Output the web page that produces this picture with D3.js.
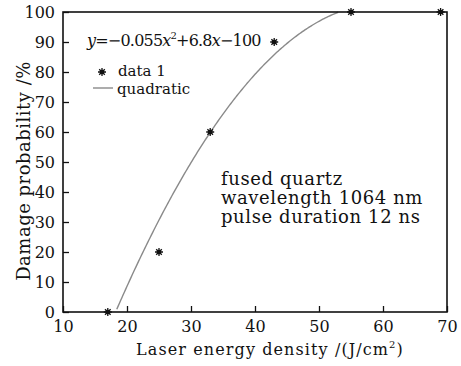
<!DOCTYPE html>
<html>
<head>
<meta charset="utf-8">
<script src="https://cdn.jsdelivr.net/npm/d3@7"></script>
<style>
	body { margin: 0; background: #fff; }
	text { font-family: "DejaVu Serif", "Liberation Serif", serif; fill: #111; }
</style>
</head>
<body>
<div id="chart"></div>
<script>
// measured points
let energy		= [17, 25, 33, 43, 55, 69];
let damage		= [0, 20, 60, 90, 100, 100];
// quadratic fit as drawn
let fitCoef		= [-0.0588, 7.06, -109.1];
let xTicks		= [10, 20, 30, 40, 50, 60, 70];
let yTicks		= [0, 10, 20, 30, 40, 50, 60, 70, 80, 90, 100];
let noteLines	= ["fused quartz", "wavelength 1064 nm", "pulse duration 12 ns"];

let canvasWidth		= 461;
let canvasHeight	= 366;
let margin			= { top: 12, right: 14, bottom: 54, left: 63 };
let width			= canvasWidth - margin.left - margin.right;
let height			= canvasHeight - margin.top - margin.bottom;

let x = d3.scaleLinear().domain([10, 70]).range([0, width]);
let y = d3.scaleLinear().domain([0, 100]).range([height, 0]);

let svg = d3.select("#chart").append("svg")
	.attr("width", canvasWidth)
	.attr("height", canvasHeight)
	.append("g")
		.attr("transform", "translate(" + margin.left + "," + margin.top + ")");

// fitted curve, from y=0 until it first reaches 100
let fit = (v) => fitCoef[0] * v * v + fitCoef[1] * v + fitCoef[2];
let curveX = [];
for (let v = 10; v <= 70; v += 0.2) {
	let f = fit(v);
	if (f < 0) continue;
	if (f >= 100) break;
	curveX.push(v);
}
svg.append("path")
	.datum(curveX)
	.attr("d", d3.line().x((v) => x(v)).y((v) => y(fit(v))))
	.attr("fill", "none")
	.attr("stroke", "#8a8a8a")
	.attr("stroke-width", 1.4);

// axes (ticks inside)
let xAxis = svg.append("g")
	.attr("transform", "translate(0," + height + ")")
	.call(d3.axisBottom(x).tickValues(xTicks).tickSizeInner(-6).tickSizeOuter(0).tickPadding(9));
let yAxis = svg.append("g")
	.call(d3.axisLeft(y).tickValues(yTicks).tickSizeInner(-6).tickSizeOuter(0).tickPadding(8));

[xAxis, yAxis].forEach((a) => {
	a.select(".domain").remove();
	a.selectAll("line").attr("stroke", "#111").attr("stroke-width", 1.3);
	a.selectAll("text").attr("font-size", 16).attr("fill", "#111")
		.style("font-family", "'DejaVu Serif', serif");
});

svg.append("rect")
	.attr("width", width).attr("height", height)
	.attr("fill", "none").attr("stroke", "#111").attr("stroke-width", 1.6);

// star markers
function star(g, cx, cy) {
	let r = 4;
	g.append("path")
		.attr("d", "M" + (cx - r) + "," + cy + "H" + (cx + r) +
			"M" + cx + "," + (cy - r) + "V" + (cy + r) +
			"M" + (cx - r * 0.7) + "," + (cy - r * 0.7) + "L" + (cx + r * 0.7) + "," + (cy + r * 0.7) +
			"M" + (cx - r * 0.7) + "," + (cy + r * 0.7) + "L" + (cx + r * 0.7) + "," + (cy - r * 0.7))
		.attr("stroke", "#111").attr("stroke-width", 1.3);
	g.append("circle").attr("cx", cx).attr("cy", cy).attr("r", 2.3).attr("fill", "#111");
}
let pts = svg.append("g");
energy.forEach((e, i) => star(pts, x(e), y(damage[i])));

// equation
let eq = svg.append("text").attr("x", 24).attr("y", 34).attr("font-size", 16)
	.attr("letter-spacing", -0.8);
eq.append("tspan").attr("font-style", "italic").text("y");
eq.append("tspan").text("=\u22120.055");
eq.append("tspan").attr("font-style", "italic").text("x");
eq.append("tspan").attr("font-size", 10).attr("dy", -7).text("2");
eq.append("tspan").attr("dy", 7).text("+6.8");
eq.append("tspan").attr("font-style", "italic").text("x");
eq.append("tspan").text("\u2212100");

// legend
star(svg, 39, 60);
svg.append("text").attr("x", 55).attr("y", 64).attr("font-size", 15).text("data 1");
svg.append("line").attr("x1", 30).attr("x2", 50).attr("y1", 76).attr("y2", 76)
	.attr("stroke", "#8a8a8a").attr("stroke-width", 1.4);
svg.append("text").attr("x", 54).attr("y", 82).attr("font-size", 15).text("quadratic");

// note
svg.append("g").selectAll("text")
	.data(noteLines)
	.enter().append("text")
	.attr("x", 158)
	.attr("y", (d, i) => 173 + i * 19)
	.attr("font-size", 18)
	.attr("letter-spacing", 0.6)
	.text((d) => d);

// axis titles
let xt = svg.append("text")
	.attr("x", width / 2 + 15).attr("y", height + 43)
	.attr("text-anchor", "middle").attr("font-size", 16).attr("letter-spacing", 1.1);
xt.append("tspan").text("Laser energy density /(J/cm");
xt.append("tspan").attr("font-size", 10).attr("dy", -7).text("2");
xt.append("tspan").attr("dy", 7).text(")");

svg.append("text")
	.attr("transform", "translate(" + (-33) + "," + 159 + ") rotate(-90)")
	.attr("text-anchor", "middle").attr("font-size", 18).attr("letter-spacing", 0.5)
	.text("Damage probability /%");
</script>
</body>
</html>
